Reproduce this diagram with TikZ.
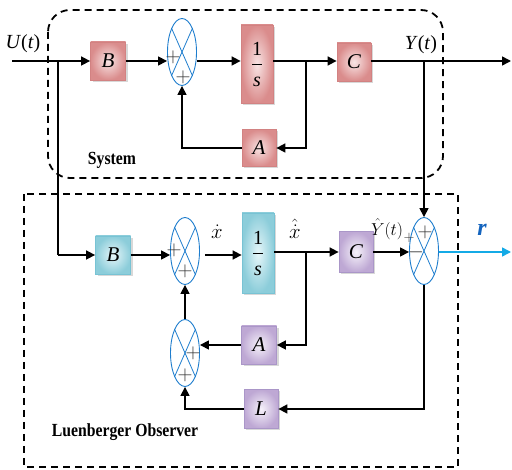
\documentclass[tikz,border=0pt]{standalone}
\usepackage{fontspec}
\setmainfont{Liberation Serif}
\usetikzlibrary{shapes.geometric,shadows,arrows.meta}
\definecolor{pinkD}{RGB}{218,140,140}
\definecolor{pinkL}{RGB}{248,228,228}
\definecolor{pinkB}{RGB}{210,130,130}
\definecolor{cyanD}{RGB}{140,205,218}
\definecolor{cyanL}{RGB}{230,246,249}
\definecolor{cyanB}{RGB}{120,195,212}
\definecolor{purD}{RGB}{190,168,212}
\definecolor{purL}{RGB}{246,242,250}
\definecolor{purB}{RGB}{170,150,200}
\definecolor{sumblue}{RGB}{30,125,205}
\definecolor{rblue}{RGB}{20,100,190}
\definecolor{outcyan}{RGB}{20,170,230}
\begin{document}
\begin{tikzpicture}[x=1pt,y=-1pt,
  box/.style={rectangle, line width=0.8pt, inner sep=0pt,
    drop shadow={shadow xshift=2pt, shadow yshift=-2pt, fill=black!30},
    font=\fontsize{21}{22}\selectfont\itshape},
  pinkbox/.style={box, draw=pinkB, inner color=pinkL, outer color=pinkD},
  cyanbox/.style={box, draw=cyanB, inner color=cyanL, outer color=cyanD},
  purbox/.style={box, draw=purB, inner color=purL, outer color=purD},
  sum/.style={ellipse, draw=sumblue, line width=0.9pt, minimum width=29pt,
    minimum height=67pt, inner sep=0pt},
  xline/.style={draw=sumblue, line width=0.8pt},
  sgn/.style={inner sep=0pt, text=black!80, font=\fontsize{20}{20}\selectfont},
  wire/.style={line width=1.6pt},
  conn/.style={line width=1.6pt, -{Triangle[length=9pt,width=9pt]}},
  dashbox/.style={line width=1.8pt, dash pattern=on 7pt off 5pt},
  lbl/.style={inner sep=0pt, font=\fontsize{20}{22}\selectfont},
  title/.style={inner sep=0pt, font=\fontsize{18.5}{20}\selectfont\bfseries}]
\path[use as bounding box] (0,0) rectangle (512,470);

% dashed frames
\draw[dashbox, rounded corners=22pt] (48,10) rectangle (443,178);
\draw[dashbox] (24,194) rectangle (458,467);

% ---------- System ----------
\node[pinkbox, minimum width=35pt, minimum height=38pt] (b1) at (108,61) {B};
\node[sum] (s1) at (182,52) {};
\node[pinkbox, minimum width=32pt, minimum height=78pt] (i1) at (257,64) {};
\node[lbl] (i1n) at (257,49) {1};
\node[lbl] (i1d) at (257,82) {\itshape s};
\draw[line width=0.7pt] (252,64) -- (262,64);
\node[pinkbox, minimum width=34pt, minimum height=37pt] (a1) at (259,148) {A};
\node[pinkbox, minimum width=34pt, minimum height=38pt] (c1) at (354,62) {C};

\draw[xline] (s1.north west) -- (s1.south east) (s1.north east) -- (s1.south west);
\node[sgn] (s1p1) at (173,57) {$+$};
\node[sgn] (s1p2) at (183,77) {$+$};

\coordinate (u0) at (12,61);
\coordinate (br1) at (58,61);
\coordinate (br2) at (306,61);
\coordinate (br3) at (424,61);
\coordinate (yout) at (511,61);

\draw[wire] (u0) -- (br1);
\draw[conn] (br1) -- (b1.west);
\draw[conn] (b1.east) -- (b1.east -| s1.west);
\draw[conn] (s1.east |- b1.east) -- (i1.west |- b1.east);
\draw[conn] (i1.east |- b1.east) -- (c1.west |- b1.east);
\draw[conn] (br2) |- (a1.east);
\draw[conn] (a1.west) -| (s1.south);
\draw[conn] (c1.east |- b1.east) -- (yout);

\node[lbl] (ut) at (23,44) {\textit{U}(\textit{t})};
\node[lbl] (yt) at (421,45) {\textit{Y}(\textit{t})};
\node[title] (sys) at (112,160) {\scalebox{0.85}[1]{System}};

% ---------- Observer ----------
\node[cyanbox, minimum width=35pt, minimum height=38pt] (b2) at (113,255) {B};
\node[sum] (s2) at (185,251) {};
\node[cyanbox, minimum width=32pt, minimum height=80pt] (i2) at (258,253) {};
\node[lbl] (i2n) at (258,238) {1};
\node[lbl] (i2d) at (258,271) {\itshape s};
\draw[line width=0.7pt] (253,253) -- (263,253);
\node[purbox, minimum width=34pt, minimum height=41pt] (c2) at (356,252) {C};
\node[purbox, minimum width=35pt, minimum height=38pt] (a2) at (259,345) {A};
\node[purbox, minimum width=34pt, minimum height=39pt] (l2) at (261,409) {L};
\node[sum] (s3) at (185,353) {};
\node[sum] (so) at (424,251) {};

\draw[xline] (s2.north west) -- (s2.south east) (s2.north east) -- (s2.south west);
\draw[xline] (s3.north west) -- (s3.south east) (s3.north east) -- (s3.south west);
\draw[xline] (so.north west) -- (so.south east) (so.north east) -- (so.south west);

\node[sgn] (s2p1) at (174,250) {$+$};
\node[sgn] (s2p2) at (185,271) {$+$};
\node[sgn] (s3p1) at (193,353) {$+$};
\node[sgn] (s3p2) at (185,375) {$+$};
\node[sgn] (sop1) at (425,232) {$+$};
\node[sgn] (som1) at (416,252) {$-$};
\node[sgn, font=\fontsize{15}{15}\selectfont] (sop2) at (409,238) {$+$};

\coordinate (br4) at (58,255);
\coordinate (br5) at (306,252);
\coordinate (rout) at (511,252);

\draw[wire] (br1) -- (br4);
\draw[conn] (br4) -- (b2.west);
\draw[conn] (b2.east) -- (b2.east -| s2.west);
\draw[conn, shorten <=5pt] (s2.east |- b2.east) -- (i2.west |- b2.east);
\draw[conn] (i2.east |- c2.west) -- (c2.west);
\draw[conn] (br5) |- (a2.east);
\draw[conn] (a2.west) -- (a2.west -| s3.east);
\draw[conn] (s3.north) -- (s2.south);
\draw[conn] (c2.east) -- (c2.east -| so.west);
\draw[conn, outcyan] (so.east |- c2.east) -- (rout);
\draw[conn] (br3) -- (so.north);
\draw[conn] (so.south) |- (l2.east);
\draw[conn] (l2.west) -| (s3.south);

\node[lbl, font=\fontsize{22}{22}\selectfont] (xd) at (217,232) {$\dot{x}$};
\node[lbl, font=\fontsize{22}{22}\selectfont] (xhd) at (295,229) {$\hat{\dot{x}}$};
\node[lbl, font=\fontsize{18}{20}\selectfont] (yh) at (387,229) {$\hat{Y}(t)$};
\node[lbl, text=rblue, font=\fontsize{24}{24}\selectfont\bfseries\itshape] (r) at (482,230) {r};
\node[title] (obs) at (125,432) {\scalebox{0.85}[1]{Luenberger Observer}};
\end{tikzpicture}
\end{document}
